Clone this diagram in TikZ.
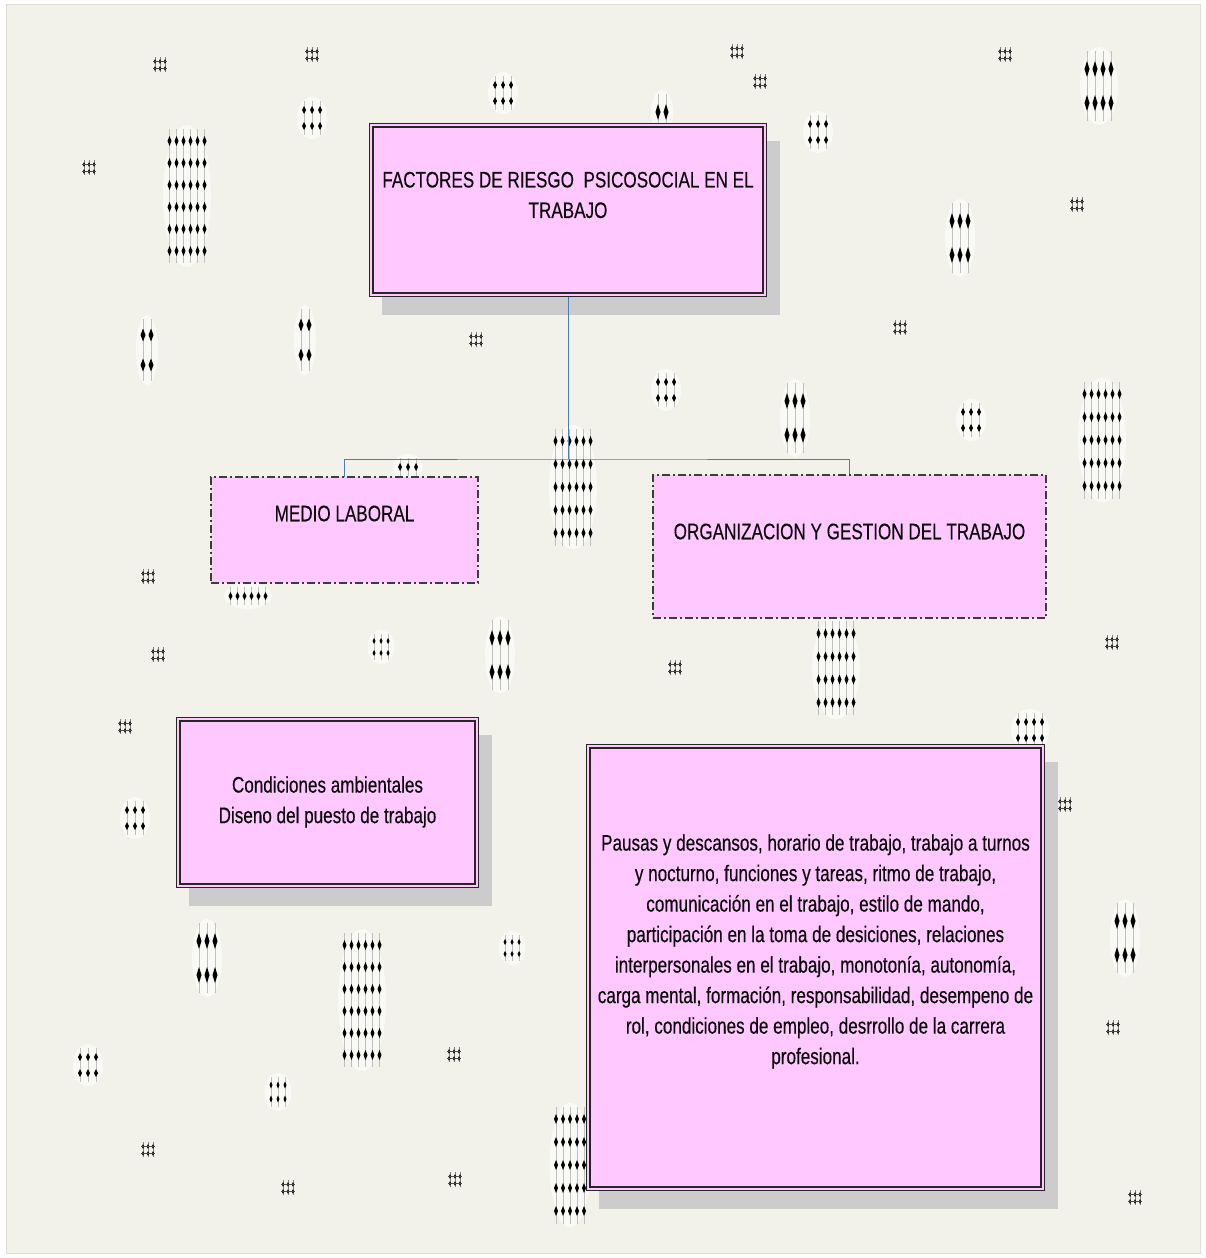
\documentclass[tikz,border=0pt]{standalone}
\usepackage{fontspec}
\setmainfont{Liberation Sans}[FakeStretch=0.76,FakeBold=0.3]
\usetikzlibrary{calc}

\definecolor{paper}{RGB}{242,242,234}
\definecolor{paperedge}{RGB}{222,222,214}
\definecolor{pinkfill}{RGB}{255,200,255}
\definecolor{shadowgrey}{RGB}{204,204,204}
\definecolor{edgedark}{RGB}{38,38,38}
\definecolor{dashgrey}{RGB}{60,60,60}
\definecolor{linkblue}{RGB}{74,126,187}
\definecolor{textcol}{RGB}{10,10,10}

\pgfdeclarelayer{back}
\pgfdeclarelayer{shade}
\pgfsetlayers{back,shade,main}

% patterned blob: centre x, centre y, columns, rows, dx, dy, diamond half-width, diamond half-height
\newcommand\blob[8]{%
  \begin{scope}[shift={(#1,#2)}]
    \pgfmathsetmacro\blobrx{(#3)*(#5)/2+3}
    \pgfmathsetmacro\blobry{(#4)*(#6)/2+5}
    \fill[white,opacity=.6] (0,0) ellipse [x radius=\blobrx pt, y radius=\blobry pt];
    \foreach \i in {1,...,#3}{
      \pgfmathsetmacro\bx{(\i-(#3+1)/2)*(#5)}
      \draw[line width=.4pt,black!25] (\bx,-\blobry+4) -- (\bx,\blobry-4);
      \foreach \j in {1,...,#4}{
        \pgfmathsetmacro\by{(\j-(#4+1)/2)*(#6)}
        \fill[black] (\bx-#7,\by) -- (\bx,\by-#8) -- (\bx+#7,\by) -- (\bx,\by+#8) -- cycle;
      }}
  \end{scope}}

% tiny grid mark
\newcommand\speck[2]{%
  \begin{scope}[shift={(#1,#2)}]
    \foreach \bx in {-5,0,5}{
      \draw[line width=.3pt,gray] (\bx,-8) -- (\bx,7);
      \foreach \by in {-3.5,3.5}{
        \fill[black] (\bx-1.1,\by) -- (\bx,\by-2.5) -- (\bx+1.1,\by) -- (\bx,\by+2.5) -- cycle;
      }}
    \draw[line width=.4pt,black!70] (-7,-3.5) -- (7,-3.5) (-7,3.5) -- (7,3.5);
  \end{scope}}

\tikzset{
  solidbox/.style={draw=edgedark, line width=1.2pt, double=pinkfill,
    double distance=2.2pt, fill=pinkfill, inner sep=0pt, outer sep=0pt},
  dashbox/.style={draw=dashgrey, line width=1.3pt,
    dash pattern=on 8pt off 3pt on 2pt off 3pt, fill=pinkfill,
    inner sep=0pt, outer sep=0pt},
  boxtext/.style={align=center, text=textcol, inner sep=0pt,
    font=\fontsize{22.5}{30.5}\selectfont},
  link/.style={draw=linkblue, line width=1pt},
  boxshadow/.style={fill=shadowgrey}
}

\begin{document}
\begin{tikzpicture}[x=1pt,y=-1pt]
  \useasboundingbox (0,0) rectangle (1205,1258);

  % boxes
  \node[solidbox, minimum width=393.4pt, minimum height=169.4pt] (top) at (568,210) {};
  \node[dashbox, minimum width=267pt, minimum height=106pt] (medio) at (344.5,530) {};
  \node[dashbox, minimum width=393pt, minimum height=143pt] (org) at (849.5,546.5) {};
  \node[solidbox, minimum width=298.4pt, minimum height=166.4pt] (cond) at (327.5,802.5) {};
  \node[solidbox, minimum width=454.4pt, minimum height=442.4pt] (pausas) at (815.5,967.5) {};

  % box texts
  \node[boxtext] (toptext) at (568,195) {FACTORES DE RIESGO\ \ PSICOSOCIAL EN EL\\TRABAJO};
  \node[boxtext] (mediotext) at (344.5,513.5) {MEDIO LABORAL};
  \node[boxtext] (orgtext) at (849.5,531.5) {ORGANIZACION Y GESTION DEL TRABAJO};
  \node[boxtext] (condtext) at (327.5,802) {Condiciones ambientales\\Diseno del puesto de trabajo};
  \node[boxtext] (pausastext) at (815.5,951.5) {Pausas y descansos, horario de trabajo, trabajo a turnos\\
    y nocturno, funciones y tareas, ritmo de trabajo,\\
    comunicación en el trabajo, estilo de mando,\\
    participación en la toma de desiciones, relaciones\\
    interpersonales en el trabajo, monotonía, autonomía,\\
    carga mental, formación, responsabilidad, desempeno de\\
    rol, condiciones de empleo, desrrollo de la carrera\\
    profesional.};

  \coordinate (bus) at (568,459);

  % shadows and connectors
  \begin{pgfonlayer}{shade}
    \foreach \b in {top,cond,pausas}{
      \fill[boxshadow] ([shift={(10.2,15.2)}]\b.north west) rectangle ([shift={(14.8,19.8)}]\b.south east);
    }
    \draw[link] (top.south) -- (bus);
    \draw[link] (medio.north) |- (bus) -| (org.north);
  \end{pgfonlayer}

  % paper and scattered pattern marks
  \begin{pgfonlayer}{back}
    \fill[white] (0,0) rectangle (1205,1258);
    \filldraw[fill=paper, draw=paperedge, line width=.8pt] (6,4) rectangle (1200,1253);

    \blob{187}{196}{6}{6}{7}{22}{2}{5}
    \blob{1102}{440}{6}{5}{7}{23}{2}{5}
    \blob{573}{487}{6}{5}{7}{23}{2}{5}
    \blob{836}{668}{6}{4}{7}{23}{2}{5}
    \blob{362}{1000}{6}{6}{7}{22}{2}{5}
    \blob{570}{1165}{5}{5}{7}{23}{2}{5}

    \blob{1099}{86}{4}{2}{8}{34}{2.5}{8}
    \blob{960}{238}{3}{2}{8}{34}{2.5}{8}
    \blob{207}{958}{3}{2}{8}{34}{2.5}{8}
    \blob{1125}{938}{3}{2}{8}{34}{2.5}{8}
    \blob{500}{655}{3}{2}{8}{34}{2.5}{8}
    \blob{795}{418}{3}{2}{8}{34}{2.5}{8}
    \blob{662}{112}{2}{1}{8}{34}{2.5}{8}
    \blob{147}{350}{2}{2}{8}{30}{2.5}{6.5}
    \blob{305}{340}{2}{2}{8}{30}{2.5}{6.5}

    \blob{503}{93}{3}{2}{8}{16}{2}{4}
    \blob{312}{118}{3}{2}{8}{16}{2}{4}
    \blob{818}{132}{3}{2}{8}{16}{2}{4}
    \blob{666}{390}{3}{2}{8}{16}{2}{4}
    \blob{971}{420}{3}{2}{8}{16}{2}{4}
    \blob{408}{467}{3}{1}{8}{16}{2}{4}
    \blob{248}{596}{6}{1}{7}{16}{2}{4}
    \blob{381}{647}{3}{2}{7}{12}{1.5}{3}
    \blob{135}{818}{3}{2}{8}{16}{2}{4}
    \blob{1030}{730}{4}{2}{8}{16}{2}{4}
    \blob{512}{948}{3}{2}{7}{12}{1.5}{3}
    \blob{88}{1065}{3}{2}{8}{16}{2}{4}
    \blob{278}{1092}{3}{2}{7}{14}{1.5}{3.5}

    \foreach \sx/\sy in {160/65, 312/55, 737/52, 760/82, 1005/55, 89/168,
        1077/205, 476/340, 900/328, 148/577, 158/655, 675/668, 1112/643,
        125/727, 1065/805, 454/1055, 1113/1028, 148/1150, 288/1188,
        455/1180, 1135/1198}{
      \speck{\sx}{\sy}
    }
  \end{pgfonlayer}
\end{tikzpicture}
\end{document}
